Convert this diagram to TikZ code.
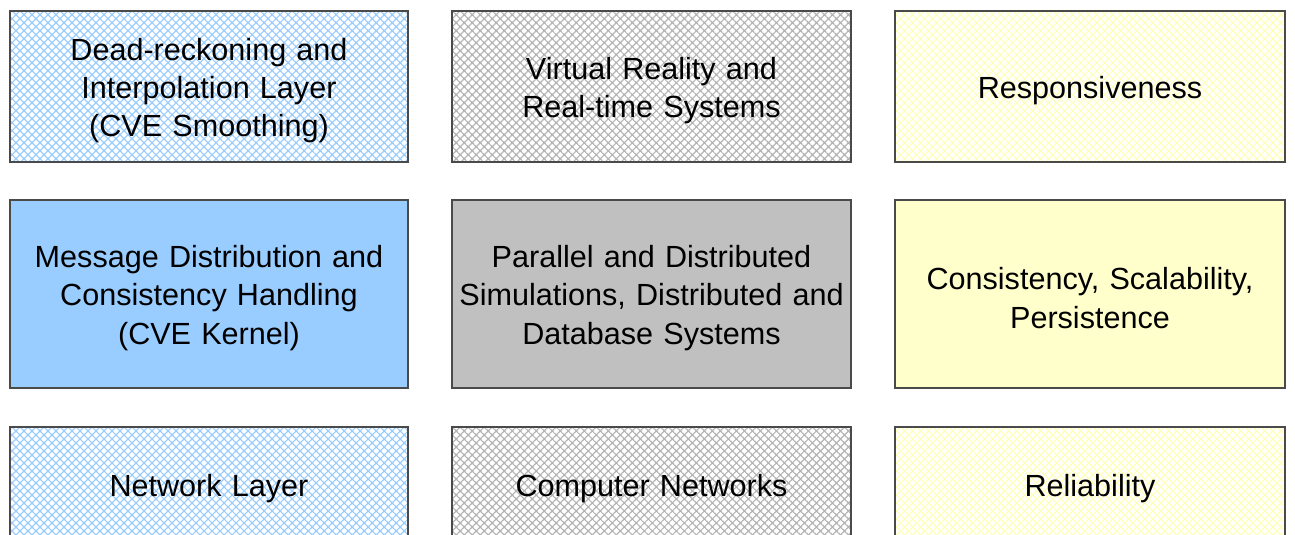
\documentclass[tikz,border=0pt]{standalone}
\usepackage{fontspec}
\setmainfont{Liberation Sans}
\usetikzlibrary{patterns.meta}
\definecolor{boxblue}{HTML}{99CCFF}
\definecolor{boxgrey}{HTML}{C0C0C0}
\definecolor{boxyellow}{HTML}{FFFFCC}
\definecolor{hatchgrey}{HTML}{B4B4B4}
\definecolor{hatchyellow}{HTML}{FFFFB8}
\definecolor{edgegrey}{HTML}{4A4A4A}
\tikzset{
  topic/.style={draw=edgegrey, line width=1.4bp, inner sep=0pt},
  hatched/.style={pattern={Hatch[angle=45,distance=5.66bp,line width=1.2bp]}, pattern color=#1},
  caption/.style={inner sep=0pt, align=center, text width=396bp, yshift=-4bp,
    font=\fontsize{30.7}{38.5}\selectfont},
}
\begin{document}
\begin{tikzpicture}[x=1bp,y=-1bp]
  \useasboundingbox (0,0) rectangle (1295,535);
  \clip (0,0) rectangle (1295,535);
  % top row
  \node[topic, hatched=boxblue, minimum width=398bp, minimum height=151bp] (smooth) at (209,86.5) {};
  \node[topic, hatched=hatchgrey, minimum width=399bp, minimum height=151bp] (vr) at (651.5,86.5) {};
  \node[topic, hatched=hatchyellow, minimum width=390bp, minimum height=151bp] (resp) at (1090,86.5) {};
  % middle row
  \node[topic, fill=boxblue, minimum width=398bp, minimum height=188bp] (kernel) at (209,294) {};
  \node[topic, fill=boxgrey, minimum width=399bp, minimum height=188bp] (pads) at (651.5,294) {};
  \node[topic, fill=boxyellow, minimum width=390bp, minimum height=188bp] (cons) at (1090,294) {};
  % bottom row
  \node[topic, hatched=boxblue, minimum width=398bp, minimum height=116bp] (net) at (209,485) {};
  \node[topic, hatched=hatchgrey, minimum width=399bp, minimum height=116bp] (cn) at (651.5,485) {};
  \node[topic, hatched=hatchyellow, minimum width=390bp, minimum height=116bp] (rel) at (1090,485) {};
  % texts
  \node[caption] (smoothtext) at (smooth.center) {Dead-reckoning and\\Interpolation Layer\\(CVE Smoothing)};
  \node[caption] (vrtext) at (vr.center) {Virtual Reality and\\Real-time Systems};
  \node[caption] (resptext) at (resp.center) {Responsiveness};
  \node[caption] (kerneltext) at (kernel.center) {Message Distribution and\\Consistency Handling\\(CVE Kernel)};
  \node[caption] (padstext) at (pads.center) {Parallel and Distributed\\Simulations, Distributed and\\Database Systems};
  \node[caption] (constext) at (cons.center) {Consistency, Scalability,\\Persistence};
  \node[caption] (nettext) at (net.center) {Network Layer};
  \node[caption] (cntext) at (cn.center) {Computer Networks};
  \node[caption] (reltext) at (rel.center) {Reliability};
\end{tikzpicture}
\end{document}
